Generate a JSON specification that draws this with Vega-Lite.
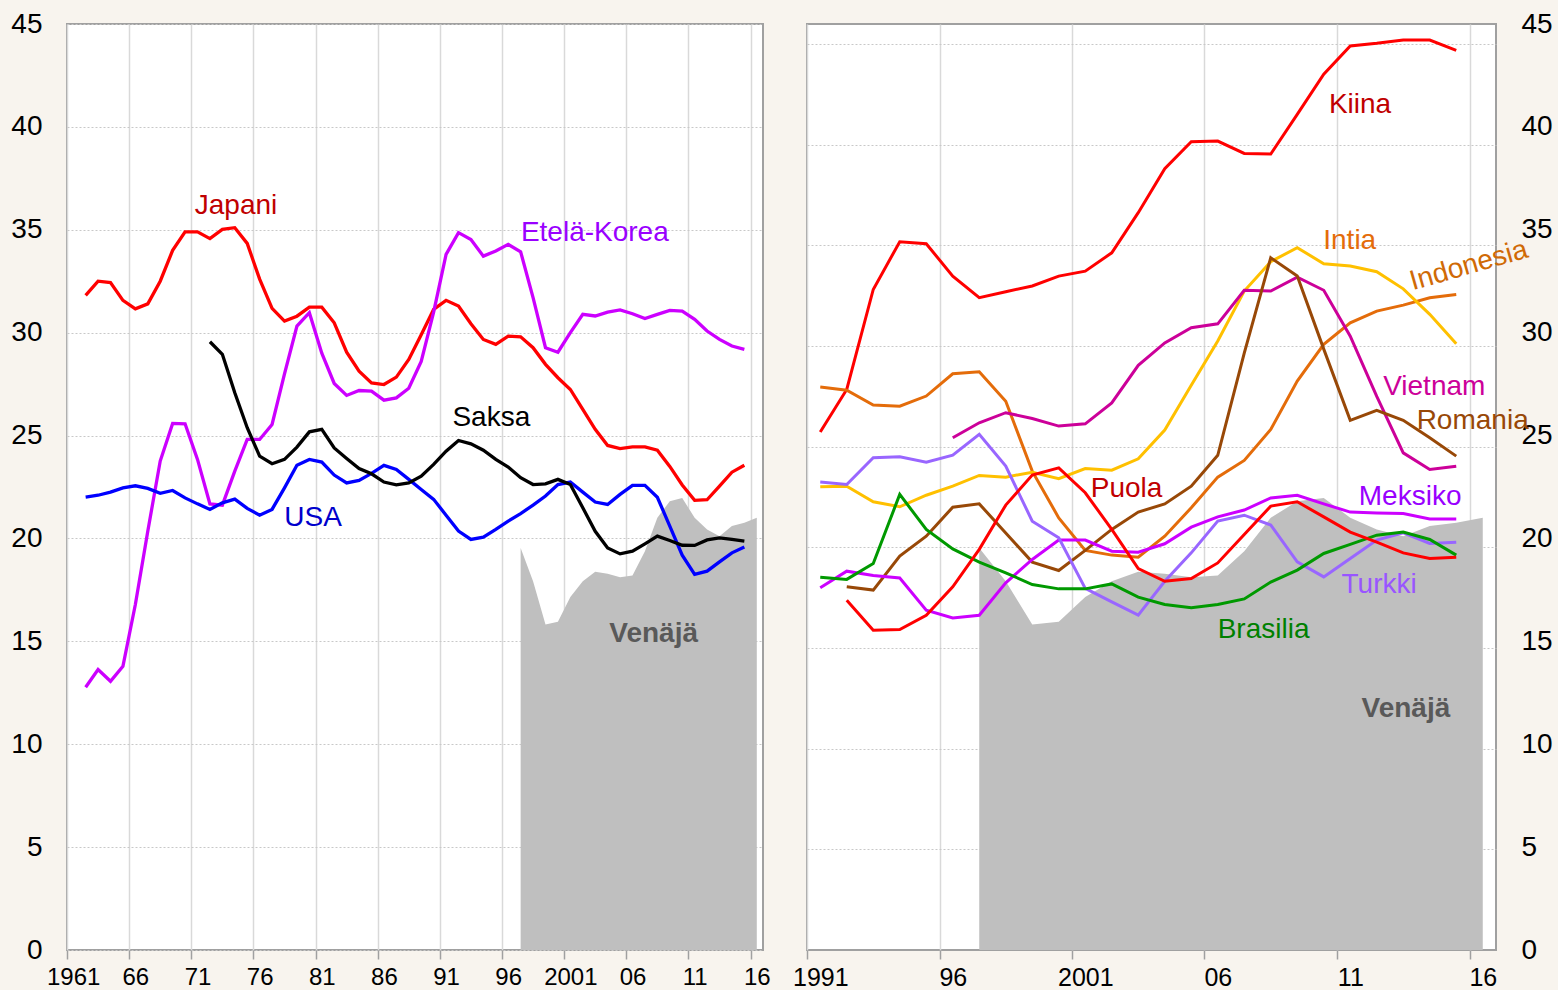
{
"$schema": "https://vega.github.io/schema/vega-lite/v6.json",
"background": "#f8f4ee",
"padding": {"left": 9, "top": 9, "right": 8, "bottom": 1},
"bounds": "flush",
"spacing": 44,
"resolve": {"scale": {"x": "independent", "y": "independent", "stroke": "independent", "fill": "independent"}},
"config": {
  "font": "Liberation Sans",
  "view": {"fill": "white", "stroke": "#a0a0a0", "strokeWidth": 2},
  "axisX": {"grid": true, "gridColor": "#d9d9d9", "gridWidth": 1.5, "domain": false, "ticks": true, "tickColor": "#a0a0a0", "tickSize": 9, "tickWidth": 1.5, "labelFontSize": 24, "labelColor": "#000000", "labelPadding": 6, "labelFlush": false, "labelOverlap": false, "labelBound": false, "title": null},
  "axisY": {"grid": true, "gridColor": "#c8c8c8", "gridDash": [2, 2], "gridWidth": 1, "domain": false, "ticks": false, "labelFontSize": 28, "labelPadding": 25, "labelColor": "#000000", "labelOverlap": false, "labelBound": false}
},
"datasets": {
  "russia": [
    {"year":1997,"v":19.54},{"year":1998,"v":17.92},{"year":1999,"v":15.82},{"year":2000,"v":15.95},{"year":2001,"v":17.15},{"year":2002,"v":17.92},{"year":2003,"v":18.38},{"year":2004,"v":18.28},{"year":2005,"v":18.12},{"year":2006,"v":18.2},{"year":2007,"v":19.38},{"year":2008,"v":21.0},{"year":2009,"v":21.81},{"year":2010,"v":21.97},{"year":2011,"v":21.0},{"year":2012,"v":20.44},{"year":2013,"v":20.11},{"year":2014,"v":20.6},{"year":2015,"v":20.76},{"year":2016,"v":21.0}
  ],
  "left": [
    {"s":"Japani","year":1962,"v":31.81},{"s":"Japani","year":1963,"v":32.5},{"s":"Japani","year":1964,"v":32.43},{"s":"Japani","year":1965,"v":31.57},{"s":"Japani","year":1966,"v":31.16},{"s":"Japani","year":1967,"v":31.4},{"s":"Japani","year":1968,"v":32.5},{"s":"Japani","year":1969,"v":34.0},{"s":"Japani","year":1970,"v":34.9},{"s":"Japani","year":1971,"v":34.9},{"s":"Japani","year":1972,"v":34.57},{"s":"Japani","year":1973,"v":35.02},{"s":"Japani","year":1974,"v":35.1},{"s":"Japani","year":1975,"v":34.34},{"s":"Japani","year":1976,"v":32.6},{"s":"Japani","year":1977,"v":31.18},{"s":"Japani","year":1978,"v":30.56},{"s":"Japani","year":1979,"v":30.8},{"s":"Japani","year":1980,"v":31.24},{"s":"Japani","year":1981,"v":31.24},{"s":"Japani","year":1982,"v":30.48},{"s":"Japani","year":1983,"v":29.05},{"s":"Japani","year":1984,"v":28.13},{"s":"Japani","year":1985,"v":27.56},{"s":"Japani","year":1986,"v":27.48},{"s":"Japani","year":1987,"v":27.84},{"s":"Japani","year":1988,"v":28.7},{"s":"Japani","year":1989,"v":29.9},{"s":"Japani","year":1990,"v":31.13},{"s":"Japani","year":1991,"v":31.57},{"s":"Japani","year":1992,"v":31.29},{"s":"Japani","year":1993,"v":30.43},{"s":"Japani","year":1994,"v":29.67},{"s":"Japani","year":1995,"v":29.43},{"s":"Japani","year":1996,"v":29.83},{"s":"Japani","year":1997,"v":29.8},{"s":"Japani","year":1998,"v":29.27},{"s":"Japani","year":1999,"v":28.46},{"s":"Japani","year":2000,"v":27.81},{"s":"Japani","year":2001,"v":27.24},{"s":"Japani","year":2002,"v":26.27},{"s":"Japani","year":2003,"v":25.3},{"s":"Japani","year":2004,"v":24.52},{"s":"Japani","year":2005,"v":24.37},{"s":"Japani","year":2006,"v":24.45},{"s":"Japani","year":2007,"v":24.45},{"s":"Japani","year":2008,"v":24.29},{"s":"Japani","year":2009,"v":23.5},{"s":"Japani","year":2010,"v":22.6},{"s":"Japani","year":2011,"v":21.85},{"s":"Japani","year":2012,"v":21.88},{"s":"Japani","year":2013,"v":22.54},{"s":"Japani","year":2014,"v":23.22},{"s":"Japani","year":2015,"v":23.56},
    {"s":"Etelä-Korea","year":1962,"v":12.77},{"s":"Etelä-Korea","year":1963,"v":13.63},{"s":"Etelä-Korea","year":1964,"v":13.06},{"s":"Etelä-Korea","year":1965,"v":13.79},{"s":"Etelä-Korea","year":1966,"v":16.79},{"s":"Etelä-Korea","year":1967,"v":20.35},{"s":"Etelä-Korea","year":1968,"v":23.76},{"s":"Etelä-Korea","year":1969,"v":25.59},{"s":"Etelä-Korea","year":1970,"v":25.57},{"s":"Etelä-Korea","year":1971,"v":23.84},{"s":"Etelä-Korea","year":1972,"v":21.68},{"s":"Etelä-Korea","year":1973,"v":21.62},{"s":"Etelä-Korea","year":1974,"v":23.27},{"s":"Etelä-Korea","year":1975,"v":24.81},{"s":"Etelä-Korea","year":1976,"v":24.81},{"s":"Etelä-Korea","year":1977,"v":25.54},{"s":"Etelä-Korea","year":1978,"v":28.0},{"s":"Etelä-Korea","year":1979,"v":30.32},{"s":"Etelä-Korea","year":1980,"v":30.97},{"s":"Etelä-Korea","year":1981,"v":29.0},{"s":"Etelä-Korea","year":1982,"v":27.53},{"s":"Etelä-Korea","year":1983,"v":26.95},{"s":"Etelä-Korea","year":1984,"v":27.19},{"s":"Etelä-Korea","year":1985,"v":27.16},{"s":"Etelä-Korea","year":1986,"v":26.72},{"s":"Etelä-Korea","year":1987,"v":26.83},{"s":"Etelä-Korea","year":1988,"v":27.3},{"s":"Etelä-Korea","year":1989,"v":28.6},{"s":"Etelä-Korea","year":1990,"v":31.0},{"s":"Etelä-Korea","year":1991,"v":33.8},{"s":"Etelä-Korea","year":1992,"v":34.86},{"s":"Etelä-Korea","year":1993,"v":34.53},{"s":"Etelä-Korea","year":1994,"v":33.72},{"s":"Etelä-Korea","year":1995,"v":33.97},{"s":"Etelä-Korea","year":1996,"v":34.29},{"s":"Etelä-Korea","year":1997,"v":33.93},{"s":"Etelä-Korea","year":1998,"v":31.7},{"s":"Etelä-Korea","year":1999,"v":29.27},{"s":"Etelä-Korea","year":2000,"v":29.05},{"s":"Etelä-Korea","year":2001,"v":30.0},{"s":"Etelä-Korea","year":2002,"v":30.89},{"s":"Etelä-Korea","year":2003,"v":30.81},{"s":"Etelä-Korea","year":2004,"v":31.0},{"s":"Etelä-Korea","year":2005,"v":31.11},{"s":"Etelä-Korea","year":2006,"v":30.92},{"s":"Etelä-Korea","year":2007,"v":30.69},{"s":"Etelä-Korea","year":2008,"v":30.89},{"s":"Etelä-Korea","year":2009,"v":31.08},{"s":"Etelä-Korea","year":2010,"v":31.05},{"s":"Etelä-Korea","year":2011,"v":30.65},{"s":"Etelä-Korea","year":2012,"v":30.08},{"s":"Etelä-Korea","year":2013,"v":29.67},{"s":"Etelä-Korea","year":2014,"v":29.35},{"s":"Etelä-Korea","year":2015,"v":29.19},
    {"s":"USA","year":1962,"v":22.01},{"s":"USA","year":1963,"v":22.1},{"s":"USA","year":1964,"v":22.25},{"s":"USA","year":1965,"v":22.46},{"s":"USA","year":1966,"v":22.56},{"s":"USA","year":1967,"v":22.43},{"s":"USA","year":1968,"v":22.19},{"s":"USA","year":1969,"v":22.33},{"s":"USA","year":1970,"v":21.97},{"s":"USA","year":1971,"v":21.68},{"s":"USA","year":1972,"v":21.41},{"s":"USA","year":1973,"v":21.73},{"s":"USA","year":1974,"v":21.91},{"s":"USA","year":1975,"v":21.46},{"s":"USA","year":1976,"v":21.13},{"s":"USA","year":1977,"v":21.41},{"s":"USA","year":1978,"v":22.46},{"s":"USA","year":1979,"v":23.56},{"s":"USA","year":1980,"v":23.84},{"s":"USA","year":1981,"v":23.71},{"s":"USA","year":1982,"v":23.08},{"s":"USA","year":1983,"v":22.7},{"s":"USA","year":1984,"v":22.82},{"s":"USA","year":1985,"v":23.16},{"s":"USA","year":1986,"v":23.55},{"s":"USA","year":1987,"v":23.35},{"s":"USA","year":1988,"v":22.87},{"s":"USA","year":1989,"v":22.38},{"s":"USA","year":1990,"v":21.9},{"s":"USA","year":1991,"v":21.13},{"s":"USA","year":1992,"v":20.36},{"s":"USA","year":1993,"v":19.95},{"s":"USA","year":1994,"v":20.06},{"s":"USA","year":1995,"v":20.44},{"s":"USA","year":1996,"v":20.84},{"s":"USA","year":1997,"v":21.21},{"s":"USA","year":1998,"v":21.62},{"s":"USA","year":1999,"v":22.06},{"s":"USA","year":2000,"v":22.62},{"s":"USA","year":2001,"v":22.74},{"s":"USA","year":2002,"v":22.25},{"s":"USA","year":2003,"v":21.77},{"s":"USA","year":2004,"v":21.65},{"s":"USA","year":2005,"v":22.14},{"s":"USA","year":2006,"v":22.58},{"s":"USA","year":2007,"v":22.58},{"s":"USA","year":2008,"v":22.0},{"s":"USA","year":2009,"v":20.6},{"s":"USA","year":2010,"v":19.19},{"s":"USA","year":2011,"v":18.25},{"s":"USA","year":2012,"v":18.41},{"s":"USA","year":2013,"v":18.86},{"s":"USA","year":2014,"v":19.3},{"s":"USA","year":2015,"v":19.58},
    {"s":"Saksa","year":1972,"v":29.56},{"s":"Saksa","year":1973,"v":28.95},{"s":"Saksa","year":1974,"v":27.08},{"s":"Saksa","year":1975,"v":25.38},{"s":"Saksa","year":1976,"v":24.0},{"s":"Saksa","year":1977,"v":23.63},{"s":"Saksa","year":1978,"v":23.84},{"s":"Saksa","year":1979,"v":24.44},{"s":"Saksa","year":1980,"v":25.18},{"s":"Saksa","year":1981,"v":25.3},{"s":"Saksa","year":1982,"v":24.4},{"s":"Saksa","year":1983,"v":23.89},{"s":"Saksa","year":1984,"v":23.4},{"s":"Saksa","year":1985,"v":23.14},{"s":"Saksa","year":1986,"v":22.74},{"s":"Saksa","year":1987,"v":22.6},{"s":"Saksa","year":1988,"v":22.7},{"s":"Saksa","year":1989,"v":23.03},{"s":"Saksa","year":1990,"v":23.6},{"s":"Saksa","year":1991,"v":24.24},{"s":"Saksa","year":1992,"v":24.76},{"s":"Saksa","year":1993,"v":24.6},{"s":"Saksa","year":1994,"v":24.29},{"s":"Saksa","year":1995,"v":23.84},{"s":"Saksa","year":1996,"v":23.47},{"s":"Saksa","year":1997,"v":22.95},{"s":"Saksa","year":1998,"v":22.62},{"s":"Saksa","year":1999,"v":22.65},{"s":"Saksa","year":2000,"v":22.87},{"s":"Saksa","year":2001,"v":22.62},{"s":"Saksa","year":2002,"v":21.49},{"s":"Saksa","year":2003,"v":20.35},{"s":"Saksa","year":2004,"v":19.54},{"s":"Saksa","year":2005,"v":19.25},{"s":"Saksa","year":2006,"v":19.38},{"s":"Saksa","year":2007,"v":19.74},{"s":"Saksa","year":2008,"v":20.11},{"s":"Saksa","year":2009,"v":19.9},{"s":"Saksa","year":2010,"v":19.67},{"s":"Saksa","year":2011,"v":19.66},{"s":"Saksa","year":2012,"v":19.93},{"s":"Saksa","year":2013,"v":20.03},{"s":"Saksa","year":2014,"v":19.95},{"s":"Saksa","year":2015,"v":19.87}
  ],
  "leftLabels": [
    {"t":"Japani","year":1974.1,"v":35.75},{"t":"Etelä-Korea","year":2002.97,"v":34.45},{"t":"USA","year":1980.3,"v":20.6},{"t":"Saksa","year":1994.64,"v":25.46}
  ],
  "right": [
    {"s":"Kiina","year":1991,"v":25.17},{"s":"Kiina","year":1992,"v":27.24},{"s":"Kiina","year":1993,"v":32.1},{"s":"Kiina","year":1994,"v":34.42},{"s":"Kiina","year":1995,"v":34.32},{"s":"Kiina","year":1996,"v":32.75},{"s":"Kiina","year":1997,"v":31.7},{"s":"Kiina","year":1998,"v":31.99},{"s":"Kiina","year":1999,"v":32.27},{"s":"Kiina","year":2000,"v":32.75},{"s":"Kiina","year":2001,"v":32.99},{"s":"Kiina","year":2002,"v":33.88},{"s":"Kiina","year":2003,"v":35.83},{"s":"Kiina","year":2004,"v":37.97},{"s":"Kiina","year":2005,"v":39.28},{"s":"Kiina","year":2006,"v":39.31},{"s":"Kiina","year":2007,"v":38.71},{"s":"Kiina","year":2008,"v":38.68},{"s":"Kiina","year":2009,"v":40.61},{"s":"Kiina","year":2010,"v":42.56},{"s":"Kiina","year":2011,"v":43.93},{"s":"Kiina","year":2012,"v":44.06},{"s":"Kiina","year":2013,"v":44.22},{"s":"Kiina","year":2014,"v":44.22},{"s":"Kiina","year":2015,"v":43.72},
    {"s":"Indonesia","year":1991,"v":27.36},{"s":"Indonesia","year":1992,"v":27.2},{"s":"Indonesia","year":1993,"v":26.48},{"s":"Indonesia","year":1994,"v":26.43},{"s":"Indonesia","year":1995,"v":26.92},{"s":"Indonesia","year":1996,"v":28.0},{"s":"Indonesia","year":1997,"v":28.1},{"s":"Indonesia","year":1998,"v":26.67},{"s":"Indonesia","year":1999,"v":23.27},{"s":"Indonesia","year":2000,"v":21.0},{"s":"Indonesia","year":2001,"v":19.42},{"s":"Indonesia","year":2002,"v":19.19},{"s":"Indonesia","year":2003,"v":19.09},{"s":"Indonesia","year":2004,"v":20.11},{"s":"Indonesia","year":2005,"v":21.49},{"s":"Indonesia","year":2006,"v":22.98},{"s":"Indonesia","year":2007,"v":23.79},{"s":"Indonesia","year":2008,"v":25.3},{"s":"Indonesia","year":2009,"v":27.65},{"s":"Indonesia","year":2010,"v":29.43},{"s":"Indonesia","year":2011,"v":30.48},{"s":"Indonesia","year":2012,"v":31.05},{"s":"Indonesia","year":2013,"v":31.34},{"s":"Indonesia","year":2014,"v":31.7},{"s":"Indonesia","year":2015,"v":31.86},
    {"s":"Intia","year":1991,"v":22.51},{"s":"Intia","year":1992,"v":22.54},{"s":"Intia","year":1993,"v":21.78},{"s":"Intia","year":1994,"v":21.54},{"s":"Intia","year":1995,"v":22.1},{"s":"Intia","year":1996,"v":22.54},{"s":"Intia","year":1997,"v":23.06},{"s":"Intia","year":1998,"v":22.98},{"s":"Intia","year":1999,"v":23.22},{"s":"Intia","year":2000,"v":22.9},{"s":"Intia","year":2001,"v":23.4},{"s":"Intia","year":2002,"v":23.32},{"s":"Intia","year":2003,"v":23.87},{"s":"Intia","year":2004,"v":25.27},{"s":"Intia","year":2005,"v":27.45},{"s":"Intia","year":2006,"v":29.6},{"s":"Intia","year":2007,"v":32.02},{"s":"Intia","year":2008,"v":33.45},{"s":"Intia","year":2009,"v":34.13},{"s":"Intia","year":2010,"v":33.35},{"s":"Intia","year":2011,"v":33.24},{"s":"Intia","year":2012,"v":32.96},{"s":"Intia","year":2013,"v":32.13},{"s":"Intia","year":2014,"v":30.89},{"s":"Intia","year":2015,"v":29.46},
    {"s":"Vietnam","year":1996,"v":24.89},{"s":"Vietnam","year":1997,"v":25.62},{"s":"Vietnam","year":1998,"v":26.11},{"s":"Vietnam","year":1999,"v":25.83},{"s":"Vietnam","year":2000,"v":25.46},{"s":"Vietnam","year":2001,"v":25.57},{"s":"Vietnam","year":2002,"v":26.59},{"s":"Vietnam","year":2003,"v":28.41},{"s":"Vietnam","year":2004,"v":29.5},{"s":"Vietnam","year":2005,"v":30.24},{"s":"Vietnam","year":2006,"v":30.43},{"s":"Vietnam","year":2007,"v":32.06},{"s":"Vietnam","year":2008,"v":32.02},{"s":"Vietnam","year":2009,"v":32.7},{"s":"Vietnam","year":2010,"v":32.06},{"s":"Vietnam","year":2011,"v":29.83},{"s":"Vietnam","year":2012,"v":26.9},{"s":"Vietnam","year":2013,"v":24.16},{"s":"Vietnam","year":2014,"v":23.35},{"s":"Vietnam","year":2015,"v":23.51},
    {"s":"Romania","year":1992,"v":17.65},{"s":"Romania","year":1993,"v":17.49},{"s":"Romania","year":1994,"v":19.14},{"s":"Romania","year":1995,"v":20.11},{"s":"Romania","year":1996,"v":21.52},{"s":"Romania","year":1997,"v":21.68},{"s":"Romania","year":1998,"v":20.27},{"s":"Romania","year":1999,"v":18.85},{"s":"Romania","year":2000,"v":18.44},{"s":"Romania","year":2001,"v":19.42},{"s":"Romania","year":2002,"v":20.44},{"s":"Romania","year":2003,"v":21.28},{"s":"Romania","year":2004,"v":21.68},{"s":"Romania","year":2005,"v":22.54},{"s":"Romania","year":2006,"v":24.04},{"s":"Romania","year":2007,"v":29.0},{"s":"Romania","year":2008,"v":33.64},{"s":"Romania","year":2009,"v":32.75},{"s":"Romania","year":2010,"v":29.2},{"s":"Romania","year":2011,"v":25.74},{"s":"Romania","year":2012,"v":26.22},{"s":"Romania","year":2013,"v":25.74},{"s":"Romania","year":2014,"v":24.89},{"s":"Romania","year":2015,"v":24.0},
    {"s":"Meksiko","year":1991,"v":17.6},{"s":"Meksiko","year":1992,"v":18.41},{"s":"Meksiko","year":1993,"v":18.2},{"s":"Meksiko","year":1994,"v":18.08},{"s":"Meksiko","year":1995,"v":16.51},{"s":"Meksiko","year":1996,"v":16.14},{"s":"Meksiko","year":1997,"v":16.27},{"s":"Meksiko","year":1998,"v":17.84},{"s":"Meksiko","year":1999,"v":18.98},{"s":"Meksiko","year":2000,"v":19.92},{"s":"Meksiko","year":2001,"v":19.92},{"s":"Meksiko","year":2002,"v":19.38},{"s":"Meksiko","year":2003,"v":19.33},{"s":"Meksiko","year":2004,"v":19.74},{"s":"Meksiko","year":2005,"v":20.55},{"s":"Meksiko","year":2006,"v":21.05},{"s":"Meksiko","year":2007,"v":21.38},{"s":"Meksiko","year":2008,"v":21.97},{"s":"Meksiko","year":2009,"v":22.1},{"s":"Meksiko","year":2010,"v":21.68},{"s":"Meksiko","year":2011,"v":21.28},{"s":"Meksiko","year":2012,"v":21.24},{"s":"Meksiko","year":2013,"v":21.21},{"s":"Meksiko","year":2014,"v":20.95},{"s":"Meksiko","year":2015,"v":20.95},
    {"s":"Turkki","year":1991,"v":22.74},{"s":"Turkki","year":1992,"v":22.62},{"s":"Turkki","year":1993,"v":23.92},{"s":"Turkki","year":1994,"v":23.97},{"s":"Turkki","year":1995,"v":23.71},{"s":"Turkki","year":1996,"v":24.05},{"s":"Turkki","year":1997,"v":25.06},{"s":"Turkki","year":1998,"v":23.52},{"s":"Turkki","year":1999,"v":20.84},{"s":"Turkki","year":2000,"v":20.03},{"s":"Turkki","year":2001,"v":17.57},{"s":"Turkki","year":2002,"v":16.92},{"s":"Turkki","year":2003,"v":16.27},{"s":"Turkki","year":2004,"v":17.92},{"s":"Turkki","year":2005,"v":19.3},{"s":"Turkki","year":2006,"v":20.84},{"s":"Turkki","year":2007,"v":21.13},{"s":"Turkki","year":2008,"v":20.65},{"s":"Turkki","year":2009,"v":18.86},{"s":"Turkki","year":2010,"v":18.13},{"s":"Turkki","year":2011,"v":19.03},{"s":"Turkki","year":2012,"v":19.92},{"s":"Turkki","year":2013,"v":20.27},{"s":"Turkki","year":2014,"v":19.76},{"s":"Turkki","year":2015,"v":19.82},
    {"s":"Brasilia","year":1991,"v":18.12},{"s":"Brasilia","year":1992,"v":18.01},{"s":"Brasilia","year":1993,"v":18.78},{"s":"Brasilia","year":1994,"v":22.14},{"s":"Brasilia","year":1995,"v":20.44},{"s":"Brasilia","year":1996,"v":19.49},{"s":"Brasilia","year":1997,"v":18.85},{"s":"Brasilia","year":1998,"v":18.33},{"s":"Brasilia","year":1999,"v":17.76},{"s":"Brasilia","year":2000,"v":17.55},{"s":"Brasilia","year":2001,"v":17.55},{"s":"Brasilia","year":2002,"v":17.79},{"s":"Brasilia","year":2003,"v":17.15},{"s":"Brasilia","year":2004,"v":16.79},{"s":"Brasilia","year":2005,"v":16.63},{"s":"Brasilia","year":2006,"v":16.79},{"s":"Brasilia","year":2007,"v":17.06},{"s":"Brasilia","year":2008,"v":17.88},{"s":"Brasilia","year":2009,"v":18.46},{"s":"Brasilia","year":2010,"v":19.27},{"s":"Brasilia","year":2011,"v":19.71},{"s":"Brasilia","year":2012,"v":20.16},{"s":"Brasilia","year":2013,"v":20.31},{"s":"Brasilia","year":2014,"v":19.95},{"s":"Brasilia","year":2015,"v":19.19},
    {"s":"Puola","year":1992,"v":17.0},{"s":"Puola","year":1993,"v":15.54},{"s":"Puola","year":1994,"v":15.57},{"s":"Puola","year":1995,"v":16.27},{"s":"Puola","year":1996,"v":17.65},{"s":"Puola","year":1997,"v":19.47},{"s":"Puola","year":1998,"v":21.62},{"s":"Puola","year":1999,"v":23.08},{"s":"Puola","year":2000,"v":23.43},{"s":"Puola","year":2001,"v":22.22},{"s":"Puola","year":2002,"v":20.44},{"s":"Puola","year":2003,"v":18.54},{"s":"Puola","year":2004,"v":17.92},{"s":"Puola","year":2005,"v":18.05},{"s":"Puola","year":2006,"v":18.81},{"s":"Puola","year":2007,"v":20.19},{"s":"Puola","year":2008,"v":21.57},{"s":"Puola","year":2009,"v":21.78},{"s":"Puola","year":2010,"v":21.05},{"s":"Puola","year":2011,"v":20.31},{"s":"Puola","year":2012,"v":19.82},{"s":"Puola","year":2013,"v":19.3},{"s":"Puola","year":2014,"v":19.03},{"s":"Puola","year":2015,"v":19.09}
  ],
  "rightLabels": [
    {"t":"Kiina","year":2011.37,"v":40.69},{"t":"Intia","year":2010.98,"v":34.05},{"t":"Vietnam","year":2014.17,"v":26.95},{"t":"Romania","year":2015.62,"v":25.3},{"t":"Meksiko","year":2013.26,"v":21.62},{"t":"Turkki","year":2012.09,"v":17.36},{"t":"Brasilia","year":2007.73,"v":15.17},{"t":"Puola","year":2002.56,"v":22.02}
  ]
},
"hconcat": [
  {
    "width": 696,
    "height": 926,
    "layer": [
      {
        "data": {"name": "russia"},
        "mark": {"type": "area", "color": "#bfbfbf"},
        "encoding": {
          "x": {"field": "year", "type": "quantitative", "title": null, "scale": {"domain": [1960.5, 2016.5], "nice": false, "zero": false},
                "axis": {"values": [1960.5, 1965.5, 1970.5, 1975.5, 1980.5, 1985.5, 1990.5, 1995.5, 2000.5, 2005.5, 2010.5, 2015.5], "labelOffset": 6.2,
                         "labelExpr": "substring(toString(datum.value + 0.5), (datum.value + 0.5 == 1961 || datum.value + 0.5 == 2001) ? 0 : 2)"}},
          "y": {"field": "v", "type": "quantitative", "title": null, "scale": {"domain": [0, 45], "nice": false},
                "axis": {"orient": "left", "values": [0, 5, 10, 15, 20, 25, 30, 35, 40, 45]}}
        }
      },
      {
        "data": {"name": "left"},
        "mark": {"type": "line", "strokeWidth": 3.3},
        "encoding": {
          "x": {"field": "year", "type": "quantitative", "title": null},
          "y": {"field": "v", "type": "quantitative", "title": null},
          "stroke": {"field": "s", "type": "nominal", "legend": null,
                     "scale": {"domain": ["Japani", "Etelä-Korea", "USA", "Saksa"], "range": ["#ff0000", "#cc00ff", "#0000ff", "#000000"]}}
        }
      },
      {
        "data": {"name": "leftLabels"},
        "mark": {"type": "text", "fontSize": 28, "align": "center", "baseline": "alphabetic"},
        "encoding": {
          "x": {"field": "year", "type": "quantitative", "title": null},
          "y": {"field": "v", "type": "quantitative", "title": null},
          "text": {"field": "t"},
          "fill": {"field": "t", "type": "nominal", "legend": null,
                   "scale": {"domain": ["Japani", "Etelä-Korea", "USA", "Saksa"], "range": ["#c00000", "#9900ff", "#0000cc", "#000000"]}}
        }
      },
      {
        "data": {"values": [{"t": "Venäjä", "year": 2007.7, "v": 14.97}]},
        "mark": {"type": "text", "fontSize": 28, "fontWeight": "bold", "align": "center", "baseline": "alphabetic", "color": "#595959"},
        "encoding": {
          "x": {"field": "year", "type": "quantitative", "title": null},
          "y": {"field": "v", "type": "quantitative", "title": null},
          "text": {"field": "t"}
        }
      }
    ]
  },
  {
    "width": 689,
    "height": 926,
    "resolve": {"scale": {"y": "independent"}},
    "layer": [
      {
        "data": {"values": [{"g": 0}, {"g": 45}]},
        "mark": {"type": "point", "opacity": 0},
        "encoding": {
          "y": {"field": "g", "type": "quantitative", "title": null, "scale": {"domain": [0, 46], "nice": false},
                "axis": {"orient": "left", "labels": false, "ticks": false, "domain": false, "grid": true, "values": [5, 10, 15, 20, 25, 30, 35, 40, 45]}}
        }
      },
      {
        "layer": [
          {
            "data": {"name": "russia"},
            "mark": {"type": "area", "color": "#bfbfbf"},
            "encoding": {
              "x": {"field": "year", "type": "quantitative", "title": null, "scale": {"domain": [1990.5, 2016.5], "nice": false, "zero": false},
                    "axis": {"values": [1990.5, 1995.5, 2000.5, 2005.5, 2010.5, 2015.5], "labelOffset": 13.3, "labelFontSize": 25,
                             "labelExpr": "substring(toString(datum.value + 0.5), (datum.value + 0.5 == 1991 || datum.value + 0.5 == 2001) ? 0 : 2)"}},
              "y": {"field": "v", "type": "quantitative", "title": null, "scale": {"domain": [0, 45], "nice": false},
                    "axis": {"orient": "right", "grid": false, "values": [0, 5, 10, 15, 20, 25, 30, 35, 40, 45]}}
            }
          },
          {
            "data": {"name": "right"},
            "mark": {"type": "line", "strokeWidth": 3},
            "encoding": {
              "x": {"field": "year", "type": "quantitative", "title": null},
              "y": {"field": "v", "type": "quantitative", "title": null},
              "stroke": {"field": "s", "type": "nominal", "legend": null,
                         "scale": {"domain": ["Kiina", "Indonesia", "Intia", "Vietnam", "Romania", "Meksiko", "Turkki", "Brasilia", "Puola"],
                                   "range": ["#ff0000", "#e46c0a", "#ffc000", "#cc0099", "#984807", "#cc00ff", "#9966ff", "#009900", "#ff0000"]}}
            }
          },
          {
            "data": {"name": "rightLabels"},
            "mark": {"type": "text", "fontSize": 28, "align": "center", "baseline": "alphabetic"},
            "encoding": {
              "x": {"field": "year", "type": "quantitative", "title": null},
              "y": {"field": "v", "type": "quantitative", "title": null},
              "text": {"field": "t"},
              "fill": {"field": "t", "type": "nominal", "legend": null,
                       "scale": {"domain": ["Kiina", "Intia", "Vietnam", "Romania", "Meksiko", "Turkki", "Brasilia", "Puola"],
                                 "range": ["#c00000", "#e46c0a", "#cc0099", "#984807", "#9900ff", "#9955ff", "#008000", "#c00000"]}}
            }
          },
          {
            "data": {"values": [{"t": "Indonesia", "year": 2015.56, "v": 32.87}]},
            "mark": {"type": "text", "fontSize": 28, "align": "center", "baseline": "alphabetic", "angle": 344, "color": "#d06a06"},
            "encoding": {
              "x": {"field": "year", "type": "quantitative", "title": null},
              "y": {"field": "v", "type": "quantitative", "title": null},
              "text": {"field": "t"}
            }
          },
          {
            "data": {"values": [{"t": "Venäjä", "year": 2013.1, "v": 11.31}]},
            "mark": {"type": "text", "fontSize": 28, "fontWeight": "bold", "align": "center", "baseline": "alphabetic", "color": "#595959"},
            "encoding": {
              "x": {"field": "year", "type": "quantitative", "title": null},
              "y": {"field": "v", "type": "quantitative", "title": null},
              "text": {"field": "t"}
            }
          }
        ]
      }
    ]
  }
]
}
